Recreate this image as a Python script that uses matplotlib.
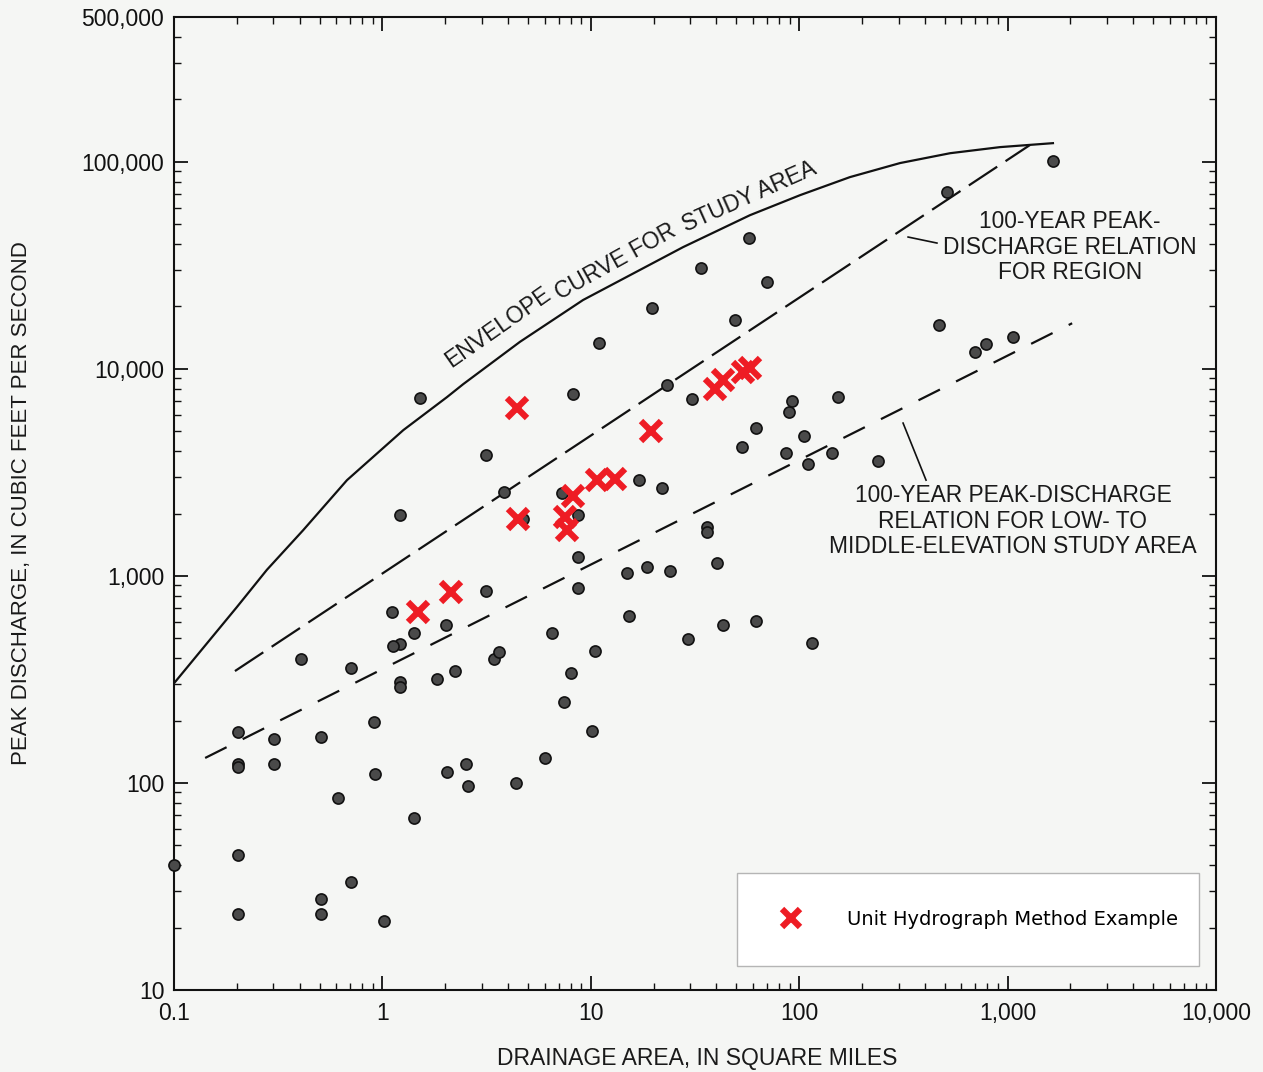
import matplotlib
matplotlib.use("Agg")
import matplotlib.pyplot as plt
from matplotlib.ticker import FixedLocator, LogLocator, NullFormatter

# gaging stations: drainage area (sq mi) and 100-year peak discharge (cfs)
station_area = [0.1, 0.203, 0.203, 0.203, 0.203, 0.203, 0.302, 0.302, 0.406, 0.507,
                0.507, 0.507, 0.612, 0.706, 0.706, 0.912, 0.92, 1.02, 1.11, 1.21,
                1.21, 1.12, 1.21, 1.21, 1.42, 1.42, 1.51, 1.83, 2.02, 2.04,
                2.23, 2.52, 2.58, 3.14, 3.14, 3.43, 3.63, 3.83, 4.73, 6.03,
                6.52, 7.27, 7.43, 8.04, 8.22, 8.68, 8.68, 8.68, 10.1, 10.5,
                10.9, 14.9, 15.2, 17.0, 18.6, 19.7, 22.0, 23.2, 24.0, 29.3,
                30.6, 33.8, 36.1, 36.1, 40.3, 43.1, 49.2, 53.2, 57.4, 62.1,
                62.1, 70.0, 86.5, 89.3, 92.3, 105, 110, 115, 144, 153,
                239, 469, 512, 698, 787, 1060, 1650, 4.38]
station_peak = [40, 176, 123, 119, 44.8, 23.4, 163, 123, 396, 166,
                27.4, 23.4, 84.3, 358, 33.1, 196, 111, 21.5, 668, 1960,
                468, 457, 306, 290, 528, 67.5, 7210, 317, 578, 113,
                347, 123, 96.4, 3830, 843, 396, 428, 2540, 1880, 132,
                528, 2510, 245, 339, 7550, 1960, 1230, 873, 178, 433,
                13300, 1030, 638, 2900, 1100, 19600, 2650, 8340, 1050, 494,
                7140, 30600, 1720, 1630, 1150, 578, 17200, 4190, 42800, 5170,
                604, 26200, 3920, 6180, 6980, 4730, 3470, 473, 3920, 7300,
                3580, 16300, 71400, 12000, 13200, 14200, 101000, 99.8]

# unit hydrograph method examples
uh_area = [1.48, 2.13, 4.43, 4.47, 7.52, 7.69, 8.22, 10.7, 13.1, 19.5, 39.4, 43.1, 53.7, 58.1]
uh_peak = [668, 834, 6460, 1880, 1920, 1660, 2430, 2900, 2930, 5000, 7980, 8820, 9640, 10100]

# envelope curve for study area
envelope_area = [0.1, 0.2, 0.279, 0.416, 0.676, 1.26, 2.04, 2.44, 4.57, 9.18, 27.7, 58,
                 101, 175, 305, 530, 920, 1650]
envelope_peak = [303, 706, 1070, 1660, 2900, 5060, 7300, 8430, 13500, 21500, 38700, 55200,
                 69000, 84300, 98600, 110000, 117700, 123000]

# 100-year relation for region
region_area = [0.196, 1280]
region_peak = [347, 120500]

# 100-year relation for low- to middle-elevation study area
lowmid_area = [0.141, 2040]
lowmid_peak = [132, 16600]

x_ticks = [0.1, 1, 10, 100, 1000, 10000]
x_labels = ["0.1", "1", "10", "100", "1,000", "10,000"]
y_ticks = [10, 100, 1000, 10000, 100000, 500000]
y_labels = ["10", "100", "1,000", "10,000", "100,000", "500,000"]

bg = "#f5f6f4"
ink = "#1a1a1a"
text_font = ["Liberation Sans", "DejaVu Sans"]

fig = plt.figure(figsize=(12.63, 10.72), dpi=100, facecolor=bg)
ax = fig.add_axes([0.1378, 0.0765, 0.825, 0.9076], facecolor=bg)
ax.set_xscale("log")
ax.set_yscale("log")
ax.set_xlim(0.1, 10000)
ax.set_ylim(10, 500000)

# Curves
ax.plot(envelope_area, envelope_peak, color="#111111", lw=1.6, solid_joinstyle="round")
ax.plot(region_area, region_peak, color="#111111", lw=1.6, dashes=(15.3, 4.5))
ax.plot(lowmid_area, lowmid_peak, color="#111111", lw=1.6, dashes=(10.8, 8.1))

# Points
ax.plot(station_area, station_peak, "o", ms=8, mfc="#4a4a4a", mec="#111111", mew=1.2,
        clip_on=False, zorder=4)
ax.plot(uh_area, uh_peak, "x", ms=15, mec="#ee1c24", mew=4.5, zorder=5,
        label="Unit Hydrograph Method Example")

# Envelope label, split so it follows the curve
for word, wx, wy, rot in [("ENVELOPE", 3.6, 15800, 35),
                          ("CURVE FOR", 13.2, 32800, 29),
                          ("STUDY AREA", 57.5, 67500, 24)]:
    ax.text(wx, wy, word, rotation=rot, rotation_mode="anchor", ha="center", va="center",
            fontsize=16.5, family=text_font, color=ink)

ax.text(1990, 38700, "100-YEAR PEAK-\nDISCHARGE RELATION\nFOR REGION", ha="center", va="center",
        multialignment="center", linespacing=1.15, fontsize=16.4, family=text_font, color=ink)
ax.plot([333, 458], [43300, 40500], color="#111111", lw=1.2)
ax.text(1060, 1840, "100-YEAR PEAK-DISCHARGE\nRELATION FOR LOW- TO\nMIDDLE-ELEVATION STUDY AREA",
        ha="center", va="center", multialignment="center", linespacing=1.15, fontsize=16.4,
        family=text_font, color=ink)
ax.plot([315, 406], [5470, 2900], color="#111111", lw=1.2)

# Axes styling
for s in ax.spines.values():
    s.set_linewidth(1.5)
    s.set_color("#111111")
ax.xaxis.set_major_locator(FixedLocator(x_ticks))
ax.set_xticklabels(x_labels)
ax.yaxis.set_major_locator(FixedLocator(y_ticks))
ax.set_yticklabels(y_labels)
ax.xaxis.set_minor_locator(LogLocator(base=10, subs=range(2, 10), numticks=20))
ax.yaxis.set_minor_locator(LogLocator(base=10, subs=range(2, 10), numticks=20))
ax.xaxis.set_minor_formatter(NullFormatter())
ax.yaxis.set_minor_formatter(NullFormatter())
ax.tick_params(which="both", direction="in", top=True, right=True, color="#111111")
ax.tick_params(which="major", length=10, width=1.3, labelsize=16.5)
ax.tick_params(axis="x", which="major", pad=9)
ax.tick_params(axis="y", which="major", pad=7)
ax.tick_params(which="minor", length=5, width=1.0)
for lab in ax.get_xticklabels() + ax.get_yticklabels():
    lab.set_family(text_font)
    lab.set_color("#111111")

ax.set_xlabel("DRAINAGE AREA, IN SQUARE MILES", fontsize=16.5, family=text_font, color=ink)
ax.set_ylabel("PEAK DISCHARGE, IN CUBIC FEET PER SECOND", fontsize=16, family=text_font, color=ink)
ax.xaxis.set_label_coords(0.502, -0.0586)
ax.yaxis.set_label_coords(-0.136, 0.5)

leg = ax.legend(loc="lower left", bbox_to_anchor=(0.540, 0.0247, 0.444, 0.0976), mode="expand",
                borderaxespad=0, fancybox=False, framealpha=1, facecolor="white",
                edgecolor="#b5b5b5", borderpad=1.9, handlelength=1.75, handletextpad=2.0,
                markerscale=0.85, prop={"family": ["DejaVu Sans"], "size": 14})
leg.get_frame().set_linewidth(1.0)

fig.savefig("out.png", dpi=100, facecolor=bg)
